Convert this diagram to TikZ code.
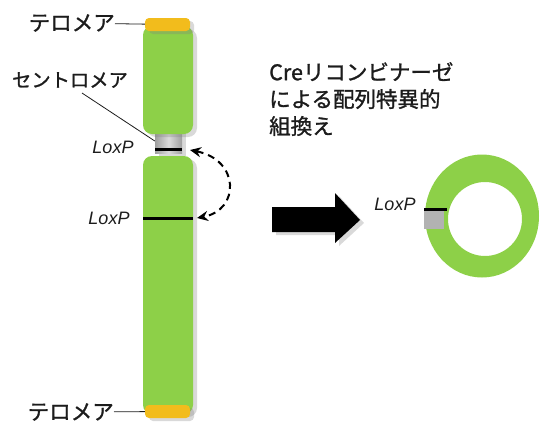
\documentclass[tikz,border=0pt]{standalone}
\usepackage{fontspec}
\setmainfont{Liberation Sans}
\newfontfamily\jp{Noto Sans CJK JP}[FakeBold=1.2]
\usetikzlibrary{arrows.meta,shadows}
\definecolor{cgreen}{RGB}{141,208,72}
\definecolor{cyellow}{RGB}{242,188,28}
\definecolor{cgray}{RGB}{178,178,178}
\definecolor{ctext}{RGB}{28,28,28}
\tikzset{
  chromo/.style={x=1pt,y=-1pt,text=ctext},
  softshadow/.style={drop shadow={shadow xshift=4pt,shadow yshift=-3pt,opacity=0.3}},
  arm/.style={rectangle,fill=cgreen,rounded corners=9pt,minimum width=50pt,inner sep=0pt,softshadow},
  telo/.style={rectangle,fill=cyellow,rounded corners=4pt,minimum width=45pt,minimum height=13pt,inner sep=0pt,softshadow},
  lbl/.style={font=\jp\fontsize{21.5}{24}\selectfont,inner sep=0pt},
  lox/.style={font=\itshape\fontsize{18}{20}\selectfont,inner sep=0pt},
  leader/.style={line width=0.8pt,ctext},
  site/.style={line width=3pt,black},
}

\begin{document}
\begin{tikzpicture}[chromo]
  \useasboundingbox (0,0) rectangle (544,426);
  % chromosome: neck first, then both arms and the telomere caps
  \node[rectangle,minimum width=27pt,minimum height=24pt,inner sep=0pt,
        left color=black!38,right color=black!38,middle color=black!14,softshadow] (neck) at (168.5,141) {};
  \node[arm,minimum height=108pt] (armtop) at (168,80) {};
  \node[arm,minimum height=258pt] (armbot) at (168,285) {};
  \node[telo] (telotop) at (167.5,24.5) {};
  \node[telo] (telobot) at (167.5,411.5) {};
  % loxP sites
  \draw[site] (155,149) -- (182,149);
  \draw[site] (143,218) -- (193,218);
  \coordinate (s1) at (190,150);
  \coordinate (s2) at (197,218);
  \draw[line width=2pt,dash pattern=on 7pt off 5pt,
        {Stealth[length=11pt,width=10pt]}-{Stealth[length=11pt,width=10pt]}]
        (s1) .. controls (240,160) and (240,210) .. (s2);
  % labels
  \node[lbl,anchor=east] (teltop) at (115,23) {テロメア};
  \node[lbl,anchor=east] (telbot) at (114,412) {テロメア};
  \node[lbl,font=\jp\fontsize{19.3}{24}\selectfont] (cen) at (70,80) {セントロメア};
  \draw[leader] (teltop) -- (telotop);
  \draw[leader] (telbot) -- (telobot);
  \draw[leader] ([xshift=12pt,yshift=-5pt]cen.south) -- (neck.west);
  \node[lox] (lox1) at (113,147) {LoxP};
  \node[lox] (lox2) at (109,218) {LoxP};
  % recombination step
  \node[anchor=north west,align=left,inner sep=0pt,font=\jp\fontsize{21.5}{27}\selectfont] (cre)
    at (269,62) {Creリコンビナーゼ\\による配列特異的\\組換え};
  \fill[black,softshadow] (272,207) -- (335,207) -- (335,193) -- (360,220)
    -- (335,243) -- (335,232) -- (272,232) -- cycle;
  % circular product
  \fill[cgreen,even odd rule] (482,216) ellipse [x radius=57pt,y radius=61.5pt]
    (485,219) circle [radius=37pt];
  \node[fill=cgray,minimum width=20pt,minimum height=18pt,inner sep=0pt] (ringsite) at (434,220) {};
  \draw[site,line width=2.5pt] (424,209.5) -- (447,209.5);
  \node[lox] (lox3) at (395,204) {LoxP};
\end{tikzpicture}
\end{document}
